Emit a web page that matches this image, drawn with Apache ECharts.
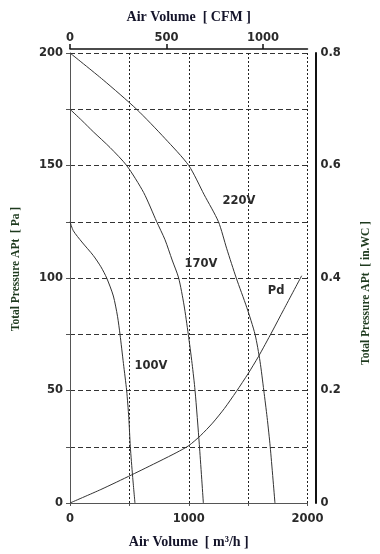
<!DOCTYPE html>
<html>
<head>
<meta charset="utf-8">
<script src="https://cdn.jsdelivr.net/npm/echarts@6/dist/echarts.min.js"></script>
<style>
html,body{margin:0;padding:0;background:#fff;}
#chart{width:380px;height:554px;}
</style>
</head>
<body>
<div id="chart"></div>
<script>
// Air volume (m³/h) vs total pressure (Pa)
const curve220V = [[0,200],[280,188],[561,175],[800,162],[1000,150],[1130,137],[1250,125],[1320,113],[1400,100],[1488,87],[1558,75],[1600,63],[1632,50],[1660,38],[1686,25],[1726,0]];
const curve170V = [[0,175],[100,170],[196,165],[337,158],[477,150],[620,138],[730,125],[800,117],[860,108],[915,100],[960,88],[996,75],[1028,62],[1053,50],[1089,26],[1123,0]];
const curve100V = [[0,125],[28,121],[100,116],[196,110],[260,105],[309,100],[365,92],[400,83],[421,75],[450,62],[477,50],[495,38],[508,25],[527,12],[547,0]];
const curvePd = [[0,0],[260,6],[519,12.5],[758,18.7],[900,22.5],[1000,25.5],[1100,30],[1200,35.5],[1300,42],[1400,49.5],[1500,57.5],[1586,65],[1700,76],[1800,86],[1951,101]];

const seriesNames = ['220V','170V','100V','Pd'];
const bottomTicks = [0,1000,2000];
const topTicks = [0,500,1000];
const leftTicks = [0,50,100,150,200];
const rightTicks = [0,0.2,0.4,0.6,0.8];

const tickFont = {fontFamily:'DejaVu Sans', fontSize:11.5, fontWeight:'bold', color:'#2a2a2a'};
const titleFont = {fontFamily:'Liberation Serif', fontWeight:'bold', fontSize:14, color:'#14142a'};
const vTitleFont = {fontFamily:'Liberation Serif', fontWeight:'bold', fontSize:11.5, color:'#1e3a1e'};

const chart = echarts.init(document.getElementById('chart'));
function mkSeries(name, data, labelCoord){
  return {
    name, type:'line', data, xAxisIndex:0, yAxisIndex:0,
    smooth:0.25, showSymbol:false, symbol:'none',
    lineStyle:{color:'#333', width:1},
    markPoint:{
      symbol:'circle', symbolSize:0,
      data:[{name:name, coord:labelCoord}],
      label:{show:true, formatter:'{b}', position:'inside', ...tickFont}
    },
    animation:false
  };
}
chart.setOption({
  animation:false,
  grid:{left:70, right:72.5, top:53, bottom:51, containLabel:false, outerBoundsMode:'none'},
  xAxis:[
    {type:'value', position:'bottom', min:0, max:2000, interval:500,
     name:'Air Volume  [ m³/h ]', nameLocation:'middle', nameGap:32, nameTextStyle:titleFont,
     axisLine:{onZero:false, lineStyle:{color:'#555', width:1}},
     axisTick:{show:true, length:3, lineStyle:{color:'#555'}},
     axisLabel:{...tickFont, margin:10, formatter:v=>bottomTicks.includes(v)?String(v):''},
     splitLine:{show:true, showMinLine:false, lineStyle:{type:[2,2], color:'#222', width:1}}},
    {type:'value', position:'top', min:0, max:1230, interval:500, offset:4,
     name:'Air Volume  [ CFM ]', nameLocation:'middle', nameGap:25, nameTextStyle:titleFont,
     axisLine:{onZero:false, lineStyle:{color:'#111', width:1.5}},
     axisTick:{show:true, length:5, lineStyle:{color:'#111', width:1.5}},
     axisLabel:{...tickFont, margin:5, showMaxLabel:false, formatter:v=>topTicks.includes(v)?String(v):''},
     splitLine:{show:false}}
  ],
  yAxis:[
    {type:'value', position:'left', min:0, max:200, interval:25,
     name:'Total Pressure APt  [ Pa ]', nameLocation:'middle', nameRotate:90, nameGap:48,
     nameTextStyle:{...vTitleFont, padding:[0,0,0,18]},
     axisLine:{show:true, onZero:false, lineStyle:{color:'#555', width:1}},
     axisTick:{show:true, length:4, lineStyle:{color:'#555'}},
     axisLabel:{...tickFont, margin:7, formatter:v=>leftTicks.includes(v)?String(v):''},
     splitLine:{show:true, showMinLine:false, lineStyle:{type:[5,3], color:'#333', width:1}}},
    {type:'value', position:'right', min:0, max:0.8, interval:0.2, offset:8,
     name:'Total Pressure APt  [ in.WC ]', nameLocation:'middle', nameRotate:90, nameGap:45,
     nameTextStyle:{...vTitleFont, padding:[0,30,0,0]},
     axisLine:{show:true, onZero:false, lineStyle:{color:'#111', width:2}},
     axisTick:{show:false},
     axisLabel:{...tickFont, margin:5, formatter:v=>{const r=rightTicks.find(t=>Math.abs(t-v)<1e-9);return r===undefined?'':String(r);}},
     splitLine:{show:false}}
  ],
  series:[
    mkSeries(seriesNames[0], curve220V, [1423,134]),
    mkSeries(seriesNames[1], curve170V, [1103,106]),
    mkSeries(seriesNames[2], curve100V, [682,61]),
    mkSeries(seriesNames[3], curvePd, [1735,94])
  ]
});
</script>
</body>
</html>
